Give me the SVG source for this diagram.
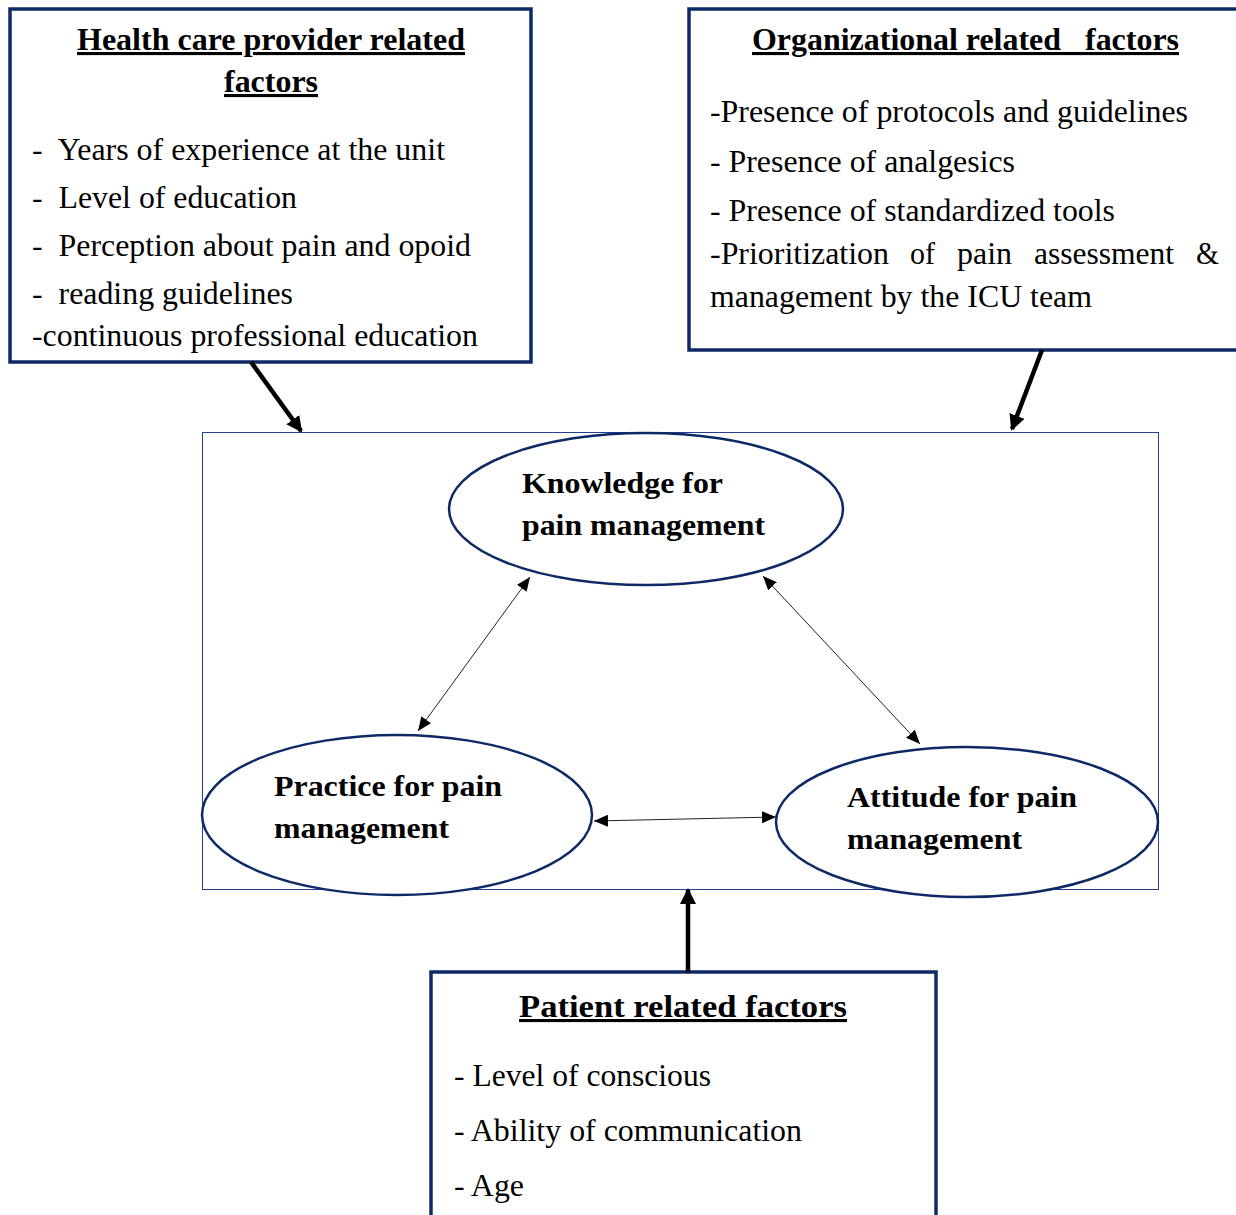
<svg xmlns="http://www.w3.org/2000/svg" width="1236" height="1215" viewBox="0 0 1236 1215">
<style>
.box{fill:#fff;stroke:#0e2a66;stroke-width:3.5}
.ell{fill:#fff;stroke:#0e2a66;stroke-width:2.5}
.t{font-family:"Liberation Serif","Times New Roman",serif;font-size:31px;fill:#000}
.h{font-family:"Liberation Serif","Times New Roman",serif;font-size:31px;font-weight:bold;fill:#000;text-decoration:underline}
.b{font-family:"Liberation Serif","Times New Roman",serif;font-size:30px;font-weight:bold;fill:#000}
.thin{stroke:#222;stroke-width:1;fill:none}
.thick{stroke:#000;stroke-width:4.5;fill:none}
</style>
<defs>
<marker id="ah" viewBox="0 0 14 12" refX="14" refY="6" markerWidth="14" markerHeight="12" markerUnits="userSpaceOnUse" orient="auto-start-reverse">
<path d="M0,0 L14,6 L0,12 Z" fill="#000"/>
</marker>
<marker id="ahb" viewBox="0 0 16 16" refX="14" refY="8" markerWidth="16" markerHeight="16" markerUnits="userSpaceOnUse" orient="auto">
<path d="M0,0 L16,8 L0,16 Z" fill="#000"/>
</marker>
</defs>
<rect width="1236" height="1215" fill="#fff"/>

<g id="frame">
<rect x="202.5" y="432.5" width="956" height="457" fill="none" stroke="#24408f" stroke-width="1"/>
</g>

<g id="provider">
<rect class="box" x="10" y="9" width="521" height="353"/>
<text class="h" x="77" y="50" textLength="388" lengthAdjust="spacingAndGlyphs">Health care provider related</text>
<text class="h" x="224" y="92" textLength="94" lengthAdjust="spacingAndGlyphs">factors</text>
<text class="t" x="32" y="160" xml:space="preserve" textLength="413" lengthAdjust="spacingAndGlyphs">-  Years of experience at the unit</text>
<text class="t" x="32" y="208" xml:space="preserve" textLength="265" lengthAdjust="spacingAndGlyphs">-  Level of education</text>
<text class="t" x="32" y="256" xml:space="preserve" textLength="439" lengthAdjust="spacingAndGlyphs">-  Perception about pain and opoid</text>
<text class="t" x="32" y="304" xml:space="preserve" textLength="261" lengthAdjust="spacingAndGlyphs">-  reading guidelines</text>
<text class="t" x="32" y="346" textLength="446" lengthAdjust="spacingAndGlyphs">-continuous professional education</text>
</g>

<g id="organizational">
<rect class="box" x="689" y="9" width="560" height="341"/>
<text class="h" x="752" y="50" xml:space="preserve" textLength="427" lengthAdjust="spacingAndGlyphs">Organizational related   factors</text>
<text class="t" x="710" y="122" textLength="478" lengthAdjust="spacingAndGlyphs">-Presence of protocols and guidelines</text>
<text class="t" x="710" y="172" textLength="305" lengthAdjust="spacingAndGlyphs">- Presence of analgesics</text>
<text class="t" x="710" y="221" textLength="405" lengthAdjust="spacingAndGlyphs">- Presence of standardized tools</text>
<text class="t" x="710" y="264" textLength="179" lengthAdjust="spacingAndGlyphs">-Prioritization</text>
<text class="t" x="910" y="264" textLength="25" lengthAdjust="spacingAndGlyphs">of</text>
<text class="t" x="957" y="264" textLength="55" lengthAdjust="spacingAndGlyphs">pain</text>
<text class="t" x="1034" y="264" textLength="140" lengthAdjust="spacingAndGlyphs">assessment</text>
<text class="t" x="1196" y="264" textLength="23" lengthAdjust="spacingAndGlyphs">&amp;</text>
<text class="t" x="710" y="307" textLength="382" lengthAdjust="spacingAndGlyphs">management by the ICU team</text>
</g>

<g id="knowledge">
<ellipse class="ell" cx="646" cy="509" rx="197" ry="76"/>
<text class="b" x="522" y="493" textLength="201" lengthAdjust="spacingAndGlyphs">Knowledge for</text>
<text class="b" x="522" y="535" textLength="243" lengthAdjust="spacingAndGlyphs">pain management</text>
</g>

<g id="practice">
<ellipse class="ell" cx="397" cy="815" rx="195" ry="80"/>
<text class="b" x="274" y="796" textLength="228" lengthAdjust="spacingAndGlyphs">Practice for pain</text>
<text class="b" x="274" y="838" textLength="175" lengthAdjust="spacingAndGlyphs">management</text>
</g>

<g id="attitude">
<ellipse class="ell" cx="967" cy="822" rx="191" ry="75"/>
<text class="b" x="847" y="807" textLength="230" lengthAdjust="spacingAndGlyphs">Attitude for pain</text>
<text class="b" x="847" y="849" textLength="175" lengthAdjust="spacingAndGlyphs">management</text>
</g>

<g id="patient">
<rect class="box" x="431" y="972" width="505" height="260"/>
<text class="h" x="519" y="1017" textLength="328" lengthAdjust="spacingAndGlyphs">Patient related factors</text>
<text class="t" x="454" y="1086" textLength="257" lengthAdjust="spacingAndGlyphs">- Level of conscious</text>
<text class="t" x="454" y="1141" textLength="348" lengthAdjust="spacingAndGlyphs">- Ability of communication</text>
<text class="t" x="454" y="1196" textLength="70" lengthAdjust="spacingAndGlyphs">- Age</text>
</g>

<g id="connectors">
<line class="thin" x1="530" y1="577" x2="418" y2="731" marker-start="url(#ah)" marker-end="url(#ah)"/>
<line class="thin" x1="763" y1="576" x2="920" y2="744" marker-start="url(#ah)" marker-end="url(#ah)"/>
<line class="thin" x1="594" y1="821" x2="776" y2="817" marker-start="url(#ah)" marker-end="url(#ah)"/>
<line class="thick" x1="251" y1="362" x2="301" y2="431" marker-end="url(#ahb)"/>
<line class="thick" x1="1042" y1="350" x2="1012" y2="429" marker-end="url(#ahb)"/>
<line class="thick" x1="688" y1="972" x2="688" y2="890" marker-end="url(#ahb)"/>
</g>
</svg>
